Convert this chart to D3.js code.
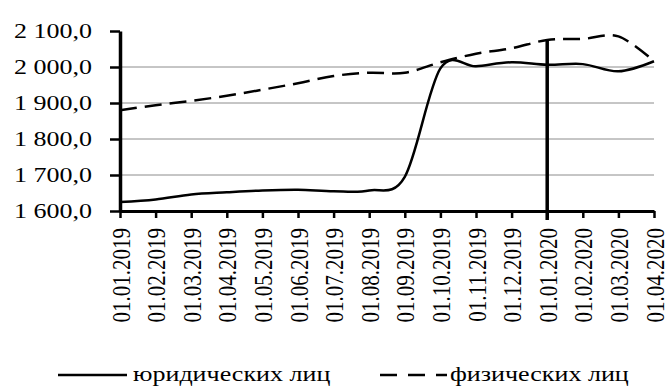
<html>
<head>
<meta charset="utf-8">
<script src="https://cdn.jsdelivr.net/npm/d3@7"></script>
<style>
body { margin: 0; background: #fff; }
svg text { font-family: "Liberation Serif", "Times New Roman", serif; font-size: 21px; fill: #000; }
</style>
</head>
<body>
<svg id="chart" width="667" height="387"></svg>
<script>
// dates on the x axis
var dates = ["01.01.2019", "01.02.2019", "01.03.2019", "01.04.2019", "01.05.2019", "01.06.2019",
  "01.07.2019", "01.08.2019", "01.09.2019", "01.10.2019", "01.11.2019", "01.12.2019",
  "01.01.2020", "01.02.2020", "01.03.2020", "01.04.2020"];

// юридических лиц (solid)
var legal = [1625, 1632, 1646, 1652, 1657, 1659, 1655, 1657, 1695, 1996, 2002, 2013, 2006, 2008, 1988, 2016];

// физических лиц (dashed)
var individual = [1880, 1894, 1906, 1920, 1937, 1955, 1975, 1984, 1984, 2013, 2037, 2052, 2075, 2078, 2085, 2016];

var yTicks = [1600, 1700, 1800, 1900, 2000, 2100];
var gridTicks = [1700, 1800, 1900, 2000];
var markDate = "01.01.2020";
var seriesNames = ["юридических лиц", "физических лиц"];

var sx = 1.24; // the picture is stretched sideways, text too

var svg = d3.select("#chart");

var x = d3.scalePoint().domain(dates).range([120, 654]);
var y = d3.scaleLinear().domain([1600, 2100]).range([211, 31]);

var fmt = d3.formatLocale({decimal: ",", thousands: "\u00a0", grouping: [3]}).format(",.1f");

// gridlines
svg.append("g").selectAll("line")
  .data(gridTicks)
  .enter().append("line")
  .attr("x1", 120).attr("x2", 654)
  .attr("y1", function(d) { return y(d); })
  .attr("y2", function(d) { return y(d); })
  .attr("stroke", "#8c8c8c")
  .attr("stroke-width", 1);

// y axis
var yAxis = svg.append("g")
  .attr("transform", "translate(120,0)")
  .call(d3.axisLeft(y).tickValues(yTicks).tickSize(10).tickSizeOuter(0).tickFormat(fmt));
yAxis.select(".domain").attr("stroke", "#000").attr("stroke-width", 3.5);
yAxis.selectAll(".tick line").attr("stroke", "#000").attr("stroke-width", 2.5);
yAxis.selectAll(".tick text")
  .attr("x", 0).attr("dy", "0.32em")
  .attr("font-family", null).attr("font-size", null)
  .attr("transform", "translate(-28,0) scale(" + sx + ",1)");

// x axis
var xAxis = svg.append("g")
  .attr("transform", "translate(0,211)")
  .call(d3.axisBottom(x).tickSize(7).tickSizeOuter(0));
xAxis.select(".domain").attr("stroke", "#000").attr("stroke-width", 3);
xAxis.selectAll(".tick line").attr("stroke", "#000").attr("stroke-width", 2.5);
xAxis.selectAll(".tick text")
  .attr("x", 0).attr("y", 0).attr("dy", "0.35em")
  .attr("text-anchor", "end")
  .attr("font-family", null).attr("font-size", null)
  .attr("transform", "translate(0,17) rotate(-90) scale(1," + sx + ")");

// lines
var line = d3.line()
  .x(function(d, i) { return x(dates[i]); })
  .y(function(d) { return y(d); })
  .curve(d3.curveCatmullRom.alpha(0));

svg.append("path")
  .datum(legal)
  .attr("d", line)
  .attr("fill", "none")
  .attr("stroke", "#000")
  .attr("stroke-width", 2.5);

svg.append("path")
  .datum(individual)
  .attr("d", line)
  .attr("fill", "none")
  .attr("stroke", "#000")
  .attr("stroke-width", 2.5)
  .attr("stroke-dasharray", "17,8");

// vertical marker at 01.01.2020
var mi = dates.indexOf(markDate);
svg.append("line")
  .attr("x1", x(markDate)).attr("x2", x(markDate))
  .attr("y1", y(individual[mi])).attr("y2", 220)
  .attr("stroke", "#000")
  .attr("stroke-width", 3.5);

// legend
var legend = svg.append("g");
legend.append("line")
  .attr("x1", 58).attr("x2", 127).attr("y1", 375).attr("y2", 375)
  .attr("stroke", "#000").attr("stroke-width", 2.5);
legend.append("text")
  .attr("transform", "translate(133,381) scale(" + sx + ",1)")
  .text(seriesNames[0]);
legend.append("line")
  .attr("x1", 380).attr("x2", 447).attr("y1", 375).attr("y2", 375)
  .attr("stroke", "#000").attr("stroke-width", 2.5)
  .attr("stroke-dasharray", "17,11");
legend.append("text")
  .attr("transform", "translate(450,381) scale(" + sx + ",1)")
  .text(seriesNames[1]);
</script>
</body>
</html>
